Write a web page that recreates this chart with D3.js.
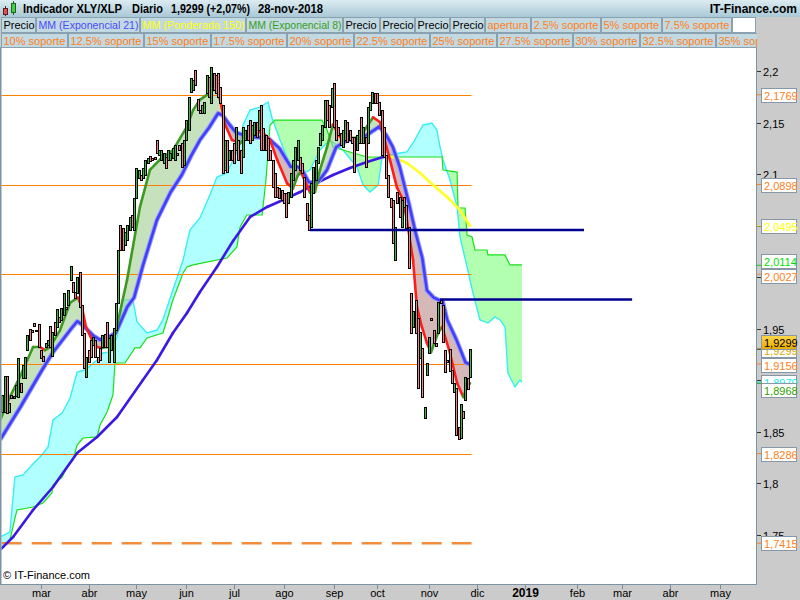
<!DOCTYPE html>
<html><head><meta charset="utf-8">
<script src="https://cdn.jsdelivr.net/npm/d3@7"></script>
<style>body{margin:0;background:#fff;} svg{display:block;}</style>
</head><body><svg id="c" width="800" height="600"></svg>
<script>
// ---------------- DATA ----------------
const firstIndex = -17; // trading-day index of first candle (index 0 = 1 Mar 2018)
const opens = [
1.8689,1.8689,1.9039,1.8689,1.8854,1.8825,1.8845,1.8835,1.8971,1.9019,
1.9019,1.9291,1.9495,1.9485,1.9553,1.9485,1.9544,1.9291,1.9233,1.9320,
1.9340,1.9524,1.9233,1.9563,1.9515,1.9612,1.9583,1.9631,1.9709,1.9728,
1.9971,1.9951,1.9854,1.9845,2.0049,1.9728,1.9456,1.9029,1.9291,1.9388,
1.9340,1.9388,1.9223,1.9311,1.9320,1.9447,1.9563,1.9175,1.9291,1.9175,
1.9485,1.9748,2.0505,2.0476,2.0311,2.0359,2.0456,2.0602,2.0456,2.0767,
2.0961,2.0990,2.0961,2.0990,2.1107,2.1175,2.1155,2.1165,2.1330,2.1184,
2.1136,2.1107,2.1165,2.1136,2.1136,2.1155,2.1136,2.1204,2.1282,2.1301,
2.1087,2.1330,2.1427,2.1796,2.1816,2.2010,2.1728,2.1621,2.1592,2.1592,
2.1786,2.1942,2.1689,2.1981,2.1961,2.1981,2.1845,2.1670,2.1039,2.1330,
2.1136,2.1233,2.1301,2.1233,2.1330,2.1233,2.1165,2.1330,2.1476,2.1524,
2.1330,2.1379,2.1505,2.1427,2.1670,2.1447,2.1379,2.1350,2.1233,2.1136,
2.1010,2.0874,2.0864,2.0845,2.0816,2.0816,2.0718,2.0777,2.0942,2.1039,
2.1136,2.1165,2.1107,2.0971,2.0718,2.0602,2.0485,2.0816,2.0942,2.1107,
2.1282,2.1330,2.1456,2.1718,2.1670,2.1650,2.1883,2.1524,2.1456,2.1398,
2.1262,2.1330,2.1505,2.1427,2.1359,2.1359,2.1233,2.1301,2.1553,2.1301,
2.1359,2.1301,2.1621,2.1689,2.1786,2.1786,2.1699,2.1621,2.1456,2.1184,
2.0990,2.0767,2.0748,2.0165,2.0825,2.0777,2.0485,2.0777,2.0699,2.0485,
1.9845,1.9515,1.9777,1.9602,1.9214,1.9311,1.8631,1.9049,1.9262,1.9602,
1.9485,1.9359,1.9456,1.9777,1.9728,1.9291,1.9194,1.9301,1.9097,1.8883,
1.8922,1.8544,1.8437,1.8699,1.8806,1.9019,1.9029];
const closes = [
1.8854,1.9039,1.8680,1.8777,1.8825,1.8845,1.8951,1.9214,1.8883,1.9146,
1.9223,1.9437,1.9388,1.9466,1.9524,1.9476,1.9320,1.9214,1.9184,1.9359,
1.9388,1.9320,1.9466,1.9437,1.9689,1.9563,1.9699,1.9845,1.9689,1.9874,
2.0107,1.9854,1.9796,2.0000,1.9709,1.9437,1.9117,1.9223,1.9175,1.9223,
1.9417,1.9223,1.9175,1.9194,1.9437,1.9320,1.9320,1.9408,1.9437,1.9505,
1.9748,2.0262,2.0262,2.0262,2.0437,2.0505,2.0583,2.0485,2.0767,2.1058,
2.1039,2.0942,2.1058,2.1136,2.1155,2.1126,2.1136,2.1146,2.1204,2.1233,
2.1233,2.1204,2.1058,2.1233,2.1204,2.1252,2.1282,2.1184,2.1233,2.1068,
2.1330,2.1524,2.1748,2.1932,2.1913,2.1864,2.1621,2.1592,2.1670,2.1699,
2.1961,2.1748,2.2039,2.1816,2.1786,2.1748,2.1689,2.1010,2.1330,2.1019,
2.1233,2.1136,2.1107,2.1456,2.1136,2.1010,2.1456,2.1427,2.1330,2.1301,
2.1476,2.1505,2.1359,2.1621,2.1233,2.1233,2.1233,2.1136,2.1136,2.0874,
2.0777,2.0777,2.0767,2.0748,2.0718,2.0583,2.0825,2.1010,2.1136,2.1262,
2.1330,2.1039,2.1010,2.0777,2.0553,2.0456,2.0913,2.1068,2.1136,2.1262,
2.1398,2.1476,2.1718,2.1524,2.1456,2.1835,2.1456,2.1330,2.1379,2.1282,
2.1427,2.1524,2.1311,2.1330,2.1301,2.1019,2.1379,2.1427,2.1301,2.1456,
2.1068,2.1650,2.1699,2.1796,2.1689,2.1689,2.1573,2.1184,2.1165,2.0961,
2.0777,2.0680,2.0330,2.0485,2.0718,2.0583,2.0748,2.0680,2.0476,2.0087,
1.9456,1.9670,1.9456,1.8922,1.9466,1.8835,1.8738,1.9165,1.9417,1.9583,
1.9359,1.9330,1.9757,1.9748,1.9369,1.9078,1.9175,1.9087,1.8971,1.8971,
1.8466,1.8427,1.8767,1.8631,1.9029,1.8908,1.9299];

// indicator readings: [trading-day index, value]
const ema21 = [[-18,1.842],[-9,1.874],[0,1.908],[5,1.926],[13,1.949],[16,1.957],[18.5,1.953],[23,1.943],[26,1.939],[30,1.942],[33,1.946],[38,1.971],[41,1.980],[45,2.012],[51,2.055],[57,2.082],[62,2.099],[66,2.117],[70,2.133],[74,2.145],[78,2.159],[80,2.157],[83,2.148],[86,2.140],[92,2.136],[100,2.135],[105,2.125],[110,2.107],[113,2.107],[115,2.104],[118,2.092],[122,2.092],[126,2.104],[130,2.126],[135,2.133],[140,2.133],[145,2.140],[149,2.146],[152,2.138],[155,2.126],[158,2.107],[162,2.072],[165,2.043],[168,2.018],[170,1.987],[173,1.980],[177,1.976],[179,1.958],[183,1.939],[187,1.917],[189,1.915]];
const ema8 = [[-18,1.861],[-13.7,1.8835],[-9.3,1.903],[-3.5,1.932],[-0.4,1.932],[1.8,1.929],[4,1.932],[8.4,1.9485],[12.8,1.975],[16.3,1.980],[18.1,1.970],[19.8,1.9515],[22.5,1.939],[24.7,1.932],[26.9,1.931],[29.1,1.932],[31.3,1.937],[32.6,1.944],[37.9,1.997],[43.6,2.068],[48,2.104],[52.4,2.114],[58.1,2.123],[64.3,2.146],[67,2.162],[70,2.172],[74.4,2.179],[77.5,2.1845],[78.9,2.172],[81.1,2.148],[84.1,2.133],[87.7,2.130],[90.7,2.135],[96.5,2.141],[98.7,2.138],[100.9,2.133],[104,2.114],[108.4,2.091],[111,2.086],[113.2,2.099],[114.5,2.102],[118.5,2.082],[120.7,2.0825],[122.9,2.104],[126,2.126],[128.6,2.148],[131.7,2.136],[137.4,2.135],[140.5,2.136],[146.3,2.155],[149.3,2.1505],[153.7,2.114],[156.8,2.087],[159.5,2.075],[161.2,2.055],[163.9,2.0165],[165.6,1.971],[167.8,1.9515],[170,1.936],[171.8,1.927],[174.9,1.9456],[176.7,1.9515],[180.2,1.926],[183.3,1.897],[186,1.8835],[187.7,1.893],[189,1.8968]];
const wma150 = [[-18,1.735],[-12.3,1.7476],[-3.5,1.7738],[5.3,1.7961],[15.9,1.8291],[24.7,1.8447],[33.5,1.8641],[44.9,1.900],[51.1,1.9194],[58.1,1.9456],[64.3,1.965],[70,1.9854],[77.5,2.0097],[84.6,2.035],[92.1,2.0583],[99.6,2.068],[106.6,2.0748],[114.1,2.0825],[121.6,2.0913],[128.6,2.099],[136.1,2.1058],[143.6,2.1117],[150.7,2.1165],[153,2.1168],[155.1,2.1165],[161.2,2.1107],[167,2.101],[172.7,2.0893],[178.9,2.0777],[184.6,2.065],[189,2.0495]];
const senkouA = [[-18.1,1.7476],[-13.7,1.7524],[-11.5,1.8058],[-7.9,1.8078],[-4,1.8175],[0.4,1.8272],[3.1,1.835],[5.3,1.8612],[9.3,1.868],[12.8,1.8825],[15.9,1.9078],[19.4,1.9097],[24.7,1.9194],[27.3,1.9262],[30.4,1.9272],[33.5,1.9417],[36.1,1.9777],[40.5,1.9777],[42.3,1.9563],[46.7,1.9456],[51.1,1.9485],[53.7,1.9583],[58.1,1.9874],[62.6,2.0165],[65.6,2.0456],[70,2.0573],[74.4,2.0796],[77.5,2.0971],[81.9,2.101],[84.6,2.1136],[87.7,2.1282],[89,2.1476],[92.1,2.1621],[96.5,2.165],[100,2.1699],[101.8,2.1544],[105.3,2.133],[109.7,2.1087],[114.1,2.099],[118.5,2.1039],[122.9,2.1233],[127.3,2.133],[133,2.1233],[139.2,2.1068],[141.9,2.0893],[144.9,2.0825],[148.5,2.0893],[150.7,2.1233],[153.7,2.1184],[158.1,2.1204],[161.2,2.1214],[163.9,2.1301],[168.3,2.1476],[172.2,2.1495],[174.4,2.1427],[175.8,2.1262],[177.1,2.1136],[180.2,2.0942],[183.3,2.068],[184.6,2.0388],[187.7,2.0097],[190.3,1.9845],[193.4,1.9583],[196.9,1.9553],[200,1.9612],[202.2,1.9583],[204.4,1.9515],[205.7,1.9068],[208.8,1.8932],[211,1.9],[211.9,1.8979]];
const senkouB = [[-18.1,1.735],[-13.7,1.7447],[-10.6,1.7738],[-3.5,1.7767],[0.9,1.7806],[4.8,1.7903],[5.3,1.7981],[9.3,1.8058],[11.5,1.8155],[14.1,1.8223],[15.9,1.8369],[18.5,1.8437],[24.7,1.8447],[26,1.8563],[29.1,1.8689],[31.7,1.8854],[32.6,1.9165],[37,1.9165],[41.4,1.9311],[43.6,1.9311],[46.7,1.9408],[53.7,1.9456],[55.5,1.9583],[58.1,1.9777],[62.6,2.0039],[64.3,2.0097],[67,2.0117],[81.9,2.0184],[86.3,2.0291],[87.7,2.0485],[90.7,2.0602],[97.4,2.0602],[99.1,2.0942],[100.9,2.1476],[103.1,2.1524],[123.8,2.1524],[126,2.1427],[128.6,2.1262],[133,2.1233],[143.6,2.1165],[176.7,2.1165],[177.1,2.1039],[183.3,2.1019],[183.7,2.067],[186.8,2.067],[187.7,2.0408],[189.9,2.0388],[191.2,2.0262],[196.5,2.0262],[196.9,2.0214],[204.4,2.0214],[206.6,2.0117],[211.9,2.0117]];

const supportLevels = [2.1769, 2.0898, 2.0027, 1.9156, 1.8286];
const dashedLevel = 1.7415;
const trendStart = [118.5, 175.8];
const trendEnd = [239.2, 260.4];
const trendLevel = [2.0456, 1.9781];

const yTicks = [2.2, 2.15, 2.1, 2.05, 2.0, 1.95, 1.9, 1.85, 1.8, 1.75];
const monthLabels = ["mar","abr","may","jun","jul","ago","sep","oct","nov","dic","2019","feb","mar","abr","may"];
const monthIndex = [0,21,42,64,85,107,129,148,171,192,213,236,256,277,299];

const tagValues = [2.1769, 2.0898, 2.0495, 2.0114, 2.0027, 1.9156, 1.8979, 1.8968, 1.8286, 1.7415];
const tagKinds  = ["support","support","wma","senkouB","support","support","senkouA","ema8","support","support"];
const lastClose = 1.9299;

const headerTexts = ["Indicador XLY/XLP","Diario","1,9299 (+2,07%)","28-nov-2018"];
const legendRow1 = ["Precio","MM (Exponencial 21)","MM (Ponderada 150)","MM (Exponencial 8)","Precio","Precio","Precio","Precio","apertura","2.5% soporte","5% soporte","7.5% soporte"];
const legendRow1Kind = ["price","ema21","wma","ema8","price","price","price","price","support","support","support","support"];
const legendRow2 = ["10% soporte","12.5% soporte","15% soporte","17.5% soporte","20% soporte","22.5% soporte","25% soporte","27.5% soporte","30% soporte","32.5% soporte","35% soporte"];

// ---------------- RENDER ----------------
const FONT = '"Liberation Sans", Arial, sans-serif';
const kindColor = {price:"#000", ema21:"#4a4aff", wma:"#ffff00", ema8:"#33a01a", support:"#ff8020", senkouA:"#20e8f0", senkouB:"#00dd00"};
const P = {l:1, t:48, r:756, b:584};
const svg = d3.select("#c").style("font-family", FONT);
const defs = svg.append("defs");
const x = d3.scaleLinear().domain([0,100]).range([41,268]);
const y = d3.scaleLinear().domain([1.8,2.2]).range([483,71]);

svg.append("rect").attr("width",800).attr("height",600).attr("fill","#cbcbcb");
svg.append("rect").attr("x",0).attr("y",P.t).attr("width",P.r).attr("height",P.b-P.t).attr("fill","#fff");

defs.append("clipPath").attr("id","plotClip").append("rect").attr("x",P.l+0.5).attr("y",P.t).attr("width",P.r-P.l-0.5).attr("height",P.b-P.t);
const plot = svg.append("g").attr("clip-path","url(#plotClip)");

const areaDown = d3.area().x(d=>x(d[0])).y0(P.b+10).y1(d=>y(d[1]));
const areaUp = d3.area().x(d=>x(d[0])).y0(P.t-10).y1(d=>y(d[1]));
const line = d3.line().x(d=>x(d[0])).y(d=>y(d[1]));

function clip(id, data){ defs.append("clipPath").attr("id",id).append("path").attr("d",areaUp(data)); }
clip("aboveB", senkouB); clip("aboveA", senkouA); clip("above21", ema21); clip("above8", ema8);

// cloud
plot.append("path").attr("d",areaDown(senkouA)).attr("fill","#b2ffff").attr("clip-path","url(#aboveB)");
plot.append("path").attr("d",areaDown(senkouB)).attr("fill","#b2ffb2").attr("clip-path","url(#aboveA)");
plot.append("path").attr("d",line(senkouA)).attr("fill","none").attr("stroke","#38eef2").attr("stroke-width",1.4);
plot.append("path").attr("d",line(senkouB)).attr("fill","none").attr("stroke","#18e018").attr("stroke-width",1.2);

// EMA band
plot.append("path").attr("d",areaDown(ema8)).attr("fill","#9fce8f").attr("fill-opacity",0.6).attr("clip-path","url(#above21)");
plot.append("path").attr("d",areaDown(ema21)).attr("fill","#b98a8a").attr("fill-opacity",0.6).attr("clip-path","url(#above8)");

// support lines
const xEnd = x(firstIndex + closes.length - 1) + 1.5;
supportLevels.forEach(v=>{
  plot.append("line").attr("x1",P.l).attr("x2",xEnd).attr("y1",Math.round(y(v))+0.5).attr("y2",Math.round(y(v))+0.5)
    .attr("stroke","#ff8000").attr("stroke-width",1);
});
plot.append("line").attr("x1",1.7).attr("x2",xEnd).attr("y1",y(dashedLevel)).attr("y2",y(dashedLevel))
  .attr("stroke","#f08c3c").attr("stroke-width",2.6).attr("stroke-dasharray","20,10");

// WMA 150 (coloured by slope)
for(let k=0;k<wma150.length-1;k++){
  const a=wma150[k], b=wma150[k+1];
  plot.append("line").attr("x1",x(a[0])).attr("y1",y(a[1])).attr("x2",x(b[0])).attr("y2",y(b[1]))
    .attr("stroke", b[1]>=a[1] ? "#3c18e4" : "#ffff26").attr("stroke-width",2.6).attr("stroke-linecap","round");
}
// EMA 21
plot.append("path").attr("d",line(ema21)).attr("fill","none").attr("stroke","#9a9aff").attr("stroke-width",4.6).attr("stroke-linejoin","round");
plot.append("path").attr("d",line(ema21)).attr("fill","none").attr("stroke","#4040fa").attr("stroke-width",2.6).attr("stroke-linejoin","round");
// EMA 8 (coloured by slope)
for(let k=0;k<ema8.length-1;k++){
  const a=ema8[k], b=ema8[k+1];
  plot.append("line").attr("x1",x(a[0])).attr("y1",y(a[1])).attr("x2",x(b[0])).attr("y2",y(b[1]))
    .attr("stroke", b[1]>=a[1] ? "#3c9a22" : "#ff1c1c").attr("stroke-width",2.6).attr("stroke-linecap","round");
}

// candles
const cg = plot.append("g").attr("shape-rendering","crispEdges");
closes.forEach((c,k)=>{
  const o = opens[k], i = firstIndex + k;
  const cx = Math.round(x(i));
  const y1 = Math.round(y(Math.max(o,c))), y2 = Math.round(y(Math.min(o,c)));
  cg.append("rect").attr("x",cx-1+0.5).attr("y",y1+0.5).attr("width",2).attr("height",Math.max(1,y2-y1))
    .attr("fill", c>=o ? "#3cbc3c" : "#f08484").attr("stroke","#000").attr("stroke-width",1);
});

// trend lines
trendLevel.forEach((v,k)=>{
  plot.append("line").attr("x1",x(trendStart[k])).attr("x2",x(trendEnd[k])).attr("y1",y(v)).attr("y2",y(v))
    .attr("stroke","#000090").attr("stroke-width",2.6);
});

plot.append("text").attr("x",3).attr("y",579).attr("font-size",11).attr("fill","#000").text("\u00A9 IT-Finance.com");

// frame
svg.append("rect").attr("x",0).attr("y",P.t).attr("width",1.5).attr("height",P.b-P.t).attr("fill","#7c93a3");
svg.append("line").attr("x1",P.r+0.5).attr("x2",P.r+0.5).attr("y1",P.t).attr("y2",P.b+0.5).attr("stroke","#7c93a3");
svg.append("line").attr("x1",0).attr("x2",P.r+0.5).attr("y1",P.b+0.5).attr("y2",P.b+0.5).attr("stroke","#7c93a3");

// right axis: value labels that would sit fully under a tag box are not drawn (as in the reference)
const tagNudge = [0,0,0,-4,2,1.5,0,7,0,0];
const tagCenters = tagValues.map((v,k)=>y(v)+tagNudge[k]);
yTicks.forEach(v=>{
  const yy = Math.round(y(v))+0.5;
  svg.append("line").attr("x1",P.r+1).attr("x2",P.r+5).attr("y1",yy).attr("y2",yy).attr("stroke","#333");
  const covered = tagCenters.some(c=>Math.abs(c-yy)<7);
  if (!covered) svg.append("text").attr("x",P.r+7).attr("y",yy+4).attr("font-size",11).attr("fill","#000")
    .text(d3.format(",")(v).replace(".",","));
});
function tag(v, color, dy, bg){
  const yy = y(v);
  svg.append("line").attr("x1",P.r+1).attr("x2",P.r+5).attr("y1",yy).attr("y2",yy).attr("stroke",color==="#000"?"#333":color);
  const g = svg.append("g");
  g.append("rect").attr("x",761.5).attr("y",Math.round(yy+dy-7)+0.5).attr("width",35).attr("height",14)
    .attr("fill",bg||"#fff").attr("stroke","#8797a5");
  g.append("text").attr("x",764).attr("y",Math.round(yy+dy)+4.5).attr("font-size",11).attr("fill",color)
    .text(d3.format(".4f")(v).replace(".",","));
}
tagValues.forEach((v,k)=>{ if(k<=5) tag(v, tagKinds[k]==="ema8"?"#30a000":kindColor[tagKinds[k]], tagNudge[k]); });
tag(lastClose, "#d8a800", 1);
tagValues.forEach((v,k)=>{ if(k>5) tag(v, tagKinds[k]==="ema8"?"#30a000":kindColor[tagKinds[k]], tagNudge[k]); });
const gold = defs.append("linearGradient").attr("id","gold").attr("x1",0).attr("y1",0).attr("x2",0).attr("y2",1);
gold.append("stop").attr("offset","0").attr("stop-color","#ffd84a");
gold.append("stop").attr("offset","1").attr("stop-color","#e8a800");
tag(lastClose, "#000", -7.5, "url(#gold)");

// bottom axis
monthLabels.forEach((m,k)=>{
  const xx = Math.round(x(monthIndex[k]))+0.5;
  svg.append("line").attr("x1",xx).attr("x2",xx).attr("y1",P.b+1).attr("y2",P.b+5).attr("stroke","#7c8c98");
  svg.append("text").attr("x",xx).attr("y",597).attr("text-anchor","middle")
    .attr("font-size", m==="2019"?12:11).attr("font-weight", m==="2019"?"bold":"normal").attr("fill","#000").text(m);
});

// header
const hg = defs.append("linearGradient").attr("id","hdr").attr("x1",0).attr("y1",0).attr("x2",0).attr("y2",1);
hg.append("stop").attr("offset","0").attr("stop-color","#dcecf2");
hg.append("stop").attr("offset","1").attr("stop-color","#a9c8d6");
svg.append("rect").attr("x",0).attr("y",0).attr("width",800).attr("height",17).attr("fill","url(#hdr)");
svg.append("line").attr("x1",5.5).attr("x2",5.5).attr("y1",6).attr("y2",16).attr("stroke","#602020");
svg.append("rect").attr("x",3.5).attr("y",8.5).attr("width",4).attr("height",6).attr("fill","#e05050").attr("stroke","#602020");
svg.append("line").attr("x1",13.5).attr("x2",13.5).attr("y1",1).attr("y2",15).attr("stroke","#206020");
svg.append("rect").attr("x",11.5).attr("y",3.5).attr("width",4).attr("height",9).attr("fill","#40d040").attr("stroke","#206020");
const hdrX = [23,132,171,258], hdrW = [99,31,79,65];
headerTexts.forEach((t,k)=>svg.append("text").attr("x",hdrX[k]).attr("y",13).attr("font-size",12).attr("font-weight","bold")
  .attr("textLength",hdrW[k]).attr("lengthAdjust","spacingAndGlyphs").attr("fill","#000").text(t));
svg.append("text").attr("x",797).attr("y",13).attr("text-anchor","end").attr("font-size",12).attr("font-weight","bold").attr("fill","#000").text("IT-Finance.com");

// legend row 1 (cell widths as laid out in the reference)
const row1W = [34,103,105,96,36,34,34,34,45,69,60,69];
(function(){
  let cx = 1;
  legendRow1.forEach((lab,k)=>{
    const w = row1W[k];
    svg.append("rect").attr("x",cx+0.5).attr("y",17.5).attr("width",w).attr("height",15).attr("fill","#c3d9e2").attr("stroke","#8aa1b0");
    const t = svg.append("text").attr("x",cx+2.5).attr("y",29).attr("font-size",11).attr("fill",kindColor[legendRow1Kind[k]]).text(lab);
    const tw = t.node().getComputedTextLength();
    if (tw > w-3) t.attr("textLength",w-3).attr("lengthAdjust","spacingAndGlyphs");
    cx += w+1;
  });
  svg.append("rect").attr("x",cx+0.5).attr("y",17.5).attr("width",P.r-cx-1).attr("height",15).attr("fill","#fff").attr("stroke","#8aa1b0");
})();
defs.append("clipPath").attr("id","row2").append("rect").attr("x",0).attr("y",33).attr("width",P.r+1).attr("height",15);
const r2 = svg.append("g").attr("clip-path","url(#row2)");
(function(){
  let cx=1;
  legendRow2.forEach(lab=>{
    const r = r2.append("rect").attr("y",33.5).attr("height",14).attr("fill","#c3d9e2").attr("stroke","#8aa1b0");
    const t = r2.append("text").attr("y",45).attr("font-size",11).attr("fill",kindColor.support).text(lab);
    const w = t.node().getComputedTextLength();
    r.attr("x",cx+0.5).attr("width",Math.round(w)+4); t.attr("x",cx+2.5);
    cx += Math.round(w)+5;
  });
})();
svg.append("line").attr("x1",0).attr("x2",P.r).attr("y1",47.5).attr("y2",47.5).attr("stroke","#8aa1b0");
</script></body></html>
